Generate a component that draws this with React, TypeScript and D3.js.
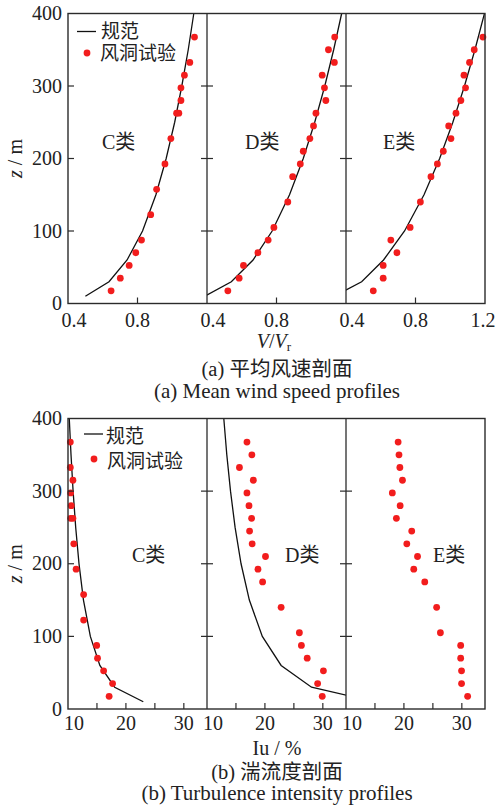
import React from "react";
import * as d3 from "d3";

// terrain classes
const classes = ["C类", "D类", "E类"];

// (a) mean wind speed, wind tunnel points
const zWindC = [17.5, 35, 52.5, 70, 87.5, 122.5, 157.5, 192.5, 227.5, 262.5, 262.5, 280, 297.5, 315, 332.5, 367.5];
const vWindC = [0.648, 0.701, 0.752, 0.79, 0.823, 0.876, 0.91, 0.958, 0.992, 1.025, 1.038, 1.05, 1.05, 1.07, 1.101, 1.128];
const zWindDE = [17.5, 35, 52.5, 70, 87.5, 105, 140, 175, 192.5, 210, 227.5, 245, 262.5, 280, 297.5, 315, 332.5, 350, 367.5];
const vWindD = [0.52, 0.585, 0.61, 0.693, 0.752, 0.785, 0.865, 0.893, 0.937, 0.954, 0.992, 1.013, 1.027, 1.084, 1.076, 1.063, 1.133, 1.099, 1.135];
const vWindE = [0.557, 0.614, 0.614, 0.693, 0.658, 0.769, 0.828, 0.889, 0.926, 0.96, 1.004, 0.991, 1.033, 1.061, 1.088, 1.079, 1.111, 1.138, 1.188];

// (b) turbulence intensity, wind tunnel points (%)
const iuWindC = [17.1, 17.7, 16.15, 15.1, 14.95, 12.7, 12.7, 11.4, 11.0, 10.45, 10.85, 10.55, 10.45, 10.85, 10.4, 10.4];
const iuWindD = [29.9, 29.1, 30.1, 27.3, 26.3, 25.95, 22.8, 19.6, 18.8, 20.1, 17.8, 17.35, 17.7, 17.25, 16.9, 18.0, 15.6, 17.75, 16.9];
const iuWindE = [31.0, 29.95, 29.95, 29.8, 29.8, 26.3, 25.65, 23.6, 21.7, 22.35, 20.5, 21.35, 18.7, 19.35, 18.0, 19.75, 19.3, 19.15, 19.0];

// code (规范) profiles
const zCode = [10, 30, 60, 100, 150, 200, 250, 300, 350, 400];
const vCodeC = [0.5, 0.636, 0.74, 0.829, 0.906, 0.965, 1.014, 1.055, 1.092, 1.124];
const vCodeD = [0.388, 0.54, 0.665, 0.775, 0.875, 0.954, 1.02, 1.078, 1.129, 1.175];
const vCodeE = [0.33, 0.49, 0.616, 0.737, 0.849, 0.939, 1.015, 1.082, 1.142, 1.197];
const iuCodeC = [23.0, 18.06, 15.5, 13.86, 12.67, 11.9, 11.33, 10.88, 10.52, 10.22];
const iuCodeD = [39.0, 28.05, 22.8, 19.55, 17.31, 15.88, 14.85, 14.06, 13.42, 12.9];

const zTicks = [0, 100, 200, 300, 400];
const vTicks = [0.4, 0.8, 1.2];
const iuTicks = [10, 15, 20, 25, 30];
const iuLabels = [10, 20, 30];

const serif = "'Liberation Serif', 'Times New Roman', 'Noto Sans CJK SC', serif";
const red = "#f21d1d";
const frame = "#2b2b2b";

const panelBand = d3.scaleBand<string>().domain(classes).range([68, 485]).padding(0);

type Row = { z: number; v: number };
const zip = (zs: number[], vs: number[]): Row[] => zs.map((z, i) => ({ z, v: vs[i] }));

const topData = [
  { pts: zip(zWindC, vWindC), code: zip(zCode, vCodeC) },
  { pts: zip(zWindDE, vWindD), code: zip(zCode, vCodeD) },
  { pts: zip(zWindDE, vWindE), code: zip(zCode, vCodeE) },
];
const botData = [
  { pts: zip(zWindC, iuWindC), code: zip(zCode, iuCodeC) },
  { pts: zip(zWindDE, iuWindD), code: zip(zCode, iuCodeD) },
  { pts: zip(zWindDE, iuWindE), code: null as Row[] | null },
];

function Block(props: {
  id: string;
  yTop: number;
  yBot: number;
  domain: [number, number];
  ticks: number[];
  labels: number[];
  fmt: (v: number) => string;
  data: { pts: Row[]; code: Row[] | null }[];
  labelDy: number;
  classLabelY: number;
  classLabelX: number[];
}) {
  const { id, yTop, yBot, domain, ticks, labels, fmt, data, labelDy } = props;
  const y = d3.scaleLinear().domain([0, 400]).range([yBot, yTop]);
  const bw = panelBand.bandwidth();
  const x0 = panelBand(classes[0])!;
  const x1 = x0 + bw * classes.length;
  return (
    <g>
      {classes.map((c, pi) => {
        const left = panelBand(c)!;
        const last = pi === classes.length - 1;
        const x = d3.scaleLinear().domain(domain).range([left, left + bw]);
        const line = d3
          .line<Row>()
          .x((d) => x(d.v))
          .y((d) => y(d.z));
        const d = data[pi];
        return (
          <g key={c}>
            <clipPath id={`${id}-clip-${pi}`}>
              <rect x={left} y={yTop} width={bw} height={yBot - yTop} />
            </clipPath>
            {/* bottom ticks, pointing in */}
            {ticks
              .filter((t) => x(t) > left + 1 && x(t) < left + bw - 1)
              .map((t) => (
                <line key={t} x1={x(t)} x2={x(t)} y1={yBot} y2={yBot - 6} stroke={frame} strokeWidth={1.2} />
              ))}
            {labels.map((t) => {
              const px = x(t);
              if (px > left + bw + 1) return null;
              if (px >= left + bw - 1 && !last) return null;
              let dx = 0;
              if (t === domain[0]) dx = 6;
              if (px >= x1 - 1) dx = -2;
              return (
                <text key={t} x={px + dx} y={yBot + labelDy} textAnchor="middle" fontFamily={serif} fontSize={20} fill="#222">
                  {fmt(t)}
                </text>
              );
            })}
            {d.code && (
              <path d={line(d.code)!} fill="none" stroke="#111" strokeWidth={1.3} clipPath={`url(#${id}-clip-${pi})`} />
            )}
            {d.pts.map((p, i) => (
              <circle key={i} cx={x(p.v)} cy={y(p.z)} r={3.4} fill={red} />
            ))}
            <text x={props.classLabelX[pi]} y={props.classLabelY} fontFamily={serif} fontSize={20} fill="#222">
              {c}
            </text>
          </g>
        );
      })}
      {/* y ticks: left axis in, dividers both sides */}
      {zTicks
        .filter((t) => t > 0 && t < 400)
        .map((t) => (
          <g key={t}>
            <line x1={x0} x2={x0 + 6} y1={y(t)} y2={y(t)} stroke={frame} strokeWidth={1.2} />
            {classes.slice(1).map((c) => (
              <line key={c} x1={panelBand(c)! - 6} x2={panelBand(c)! + 6} y1={y(t)} y2={y(t)} stroke={frame} strokeWidth={1.2} />
            ))}
          </g>
        ))}
      {zTicks.map((t) => (
        <text key={t} x={62} y={y(t) + 6.5} textAnchor="end" fontFamily={serif} fontSize={20} fill="#222">
          {t}
        </text>
      ))}
      <rect x={x0} y={yTop} width={x1 - x0} height={yBot - yTop} fill="none" stroke={frame} strokeWidth={1.4} />
      {classes.slice(1).map((c) => (
        <line key={c} x1={panelBand(c)!} x2={panelBand(c)!} y1={yTop} y2={yBot} stroke={frame} strokeWidth={1.3} />
      ))}
      <text
        transform={`translate(22, ${(yTop + yBot) / 2}) rotate(-90)`}
        textAnchor="middle"
        fontFamily={serif}
        fontSize={20}
        fill="#222"
      >
        <tspan fontStyle="italic">z</tspan> / m
      </text>
    </g>
  );
}

function Legend(props: { lx: number; ly: number; tx1: number; ty1: number; dx: number; dy: number; tx2: number; ty2: number }) {
  const p = props;
  return (
    <g fontFamily={serif} fontSize={19} fill="#222">
      <line x1={p.lx} x2={p.lx + 19} y1={p.ly} y2={p.ly} stroke="#111" strokeWidth={1.3} />
      <text x={p.tx1} y={p.ty1}>规范</text>
      <circle cx={p.dx} cy={p.dy} r={3.4} fill={red} />
      <text x={p.tx2} y={p.ty2}>风洞试验</text>
    </g>
  );
}

export default function App() {
  return (
    <svg
      width={496}
      height={812}
      viewBox="0 0 496 812"
      style={{ position: "absolute", left: 0, top: 0, background: "#fff" }}
    >
      <rect width={496} height={812} fill="#fff" />
      <Block
        id="top"
        yTop={13.5}
        yBot={303.5}
        domain={[0.4, 1.2]}
        ticks={vTicks}
        labels={vTicks}
        fmt={(v) => v.toFixed(1)}
        data={topData}
        labelDy={23.5}
        classLabelY={149}
        classLabelX={[102, 245, 383]}
      />
      <Legend lx={77} ly={31.5} tx1={101} ty1={37.5} dx={87} dy={53} tx2={100} ty2={59.5} />
      <text x={274} y={348} textAnchor="middle" fontFamily={serif} fontSize={20} fill="#222">
        <tspan fontStyle="italic">V</tspan>/<tspan fontStyle="italic">V</tspan>
        <tspan fontSize={13} dy={3}>r</tspan>
      </text>
      <text x={277} y={376} textAnchor="middle" fontFamily={serif} fontSize={20.5} fill="#222">
        (a) 平均风速剖面
      </text>
      <text x={277} y={398} textAnchor="middle" fontFamily={serif} fontSize={21} fill="#222">
        (a) Mean wind speed profiles
      </text>

      <Block
        id="bot"
        yTop={418.5}
        yBot={709}
        domain={[10, 34]}
        ticks={iuTicks}
        labels={iuLabels}
        fmt={(v) => String(v)}
        data={botData}
        labelDy={21}
        classLabelY={562}
        classLabelX={[132, 285, 433]}
      />
      <Legend lx={84} ly={434} tx1={106} ty1={443} dx={94} dy={459} tx2={107} ty2={468} />
      <text x={277} y={755} textAnchor="middle" fontFamily={serif} fontSize={20} fill="#222">
        Iu / %
      </text>
      <text x={277} y={779} textAnchor="middle" fontFamily={serif} fontSize={20.5} fill="#222">
        (b) 湍流度剖面
      </text>
      <text x={277} y={800} textAnchor="middle" fontFamily={serif} fontSize={21} fill="#222">
        (b) Turbulence intensity profiles
      </text>
    </svg>
  );
}
